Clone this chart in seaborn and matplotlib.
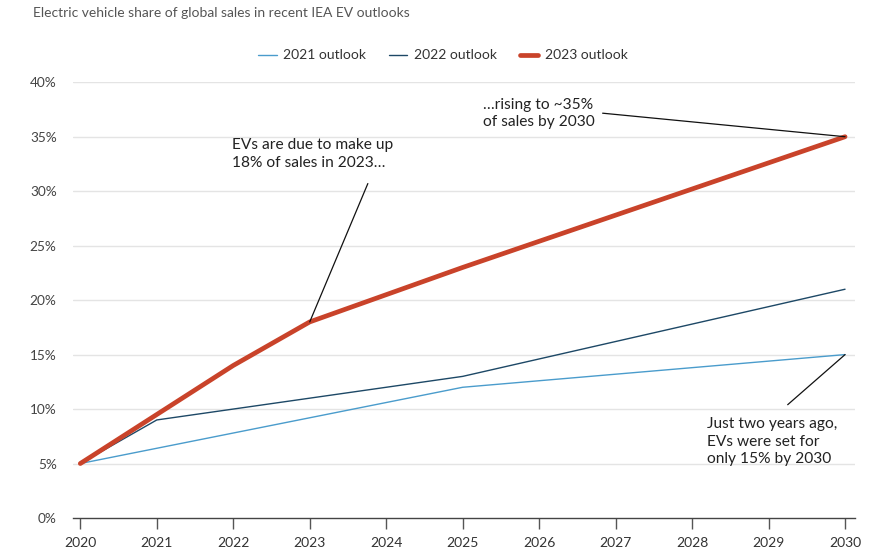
import matplotlib
matplotlib.use("Agg")
import matplotlib.pyplot as plt
import seaborn as sns
import pandas as pd

# IEA EV outlook projections: share of global car sales (%)
years_2021 = [2020, 2025, 2030]
share_2021 = [5, 12, 15]

years_2022 = [2020, 2021, 2025, 2030]
share_2022 = [5, 9, 13, 21]

years_2023 = [2020, 2022, 2023, 2025, 2030]
share_2023 = [5, 14, 18, 23, 35]

series_names = ["2021 outlook", "2022 outlook", "2023 outlook"]
series_colors = ["#4a9ccc", "#1d4866", "#c9432a"]
series_widths = [1.0, 1.0, 3.4]

x_ticks = list(range(2020, 2031))
y_ticks = [0, 5, 10, 15, 20, 25, 30, 35, 40]

frames = []
for name, yrs, vals in zip(series_names,
                           [years_2021, years_2022, years_2023],
                           [share_2021, share_2022, share_2023]):
    frames.append(pd.DataFrame({"year": yrs, "share": vals, "outlook": name}))
df = pd.concat(frames, ignore_index=True)

sns.set_theme(style="white")
plt.rcParams["font.family"] = ["Lato", "DejaVu Sans"]

fig = plt.figure(figsize=(8.86, 5.52), dpi=100)
ax = fig.add_axes([0.082, 0.0616, 0.883, 0.7894])

palette = dict(zip(series_names, series_colors))
for name, lw in zip(series_names, series_widths):
    sub = df[df["outlook"] == name]
    sns.lineplot(data=sub, x="year", y="share", color=palette[name],
                 linewidth=lw, ax=ax, label=name, zorder=3 if lw > 2 else 2,
                 solid_capstyle="round")

ax.set_xlim(2019.9, 2030.13)
ax.set_ylim(0, 40)
ax.set_xticks(x_ticks)
ax.set_yticks(y_ticks)
ax.set_yticklabels([f"{v}%" for v in y_ticks])
ax.set_xlabel("")
ax.set_ylabel("")

for y in y_ticks[1:]:
    ax.axhline(y, color="#e4e4e4", linewidth=1.0, zorder=0)

for side in ["top", "right", "left"]:
    ax.spines[side].set_visible(False)
ax.spines["bottom"].set_color("#444444")
ax.spines["bottom"].set_linewidth(1.0)

ax.tick_params(axis="x", bottom=True, length=8, width=1, color="#555555",
               labelsize=10, labelcolor="#333333", pad=6)
ax.tick_params(axis="y", left=False, length=0, labelsize=9.8,
               labelcolor="#444444", pad=11.5)

# Legend above the plot area
leg = ax.legend(loc="upper center", ncol=3, frameon=False,
                fontsize=10, handlelength=1.3, columnspacing=1.7,
                handletextpad=0.45)
leg.set_bbox_to_anchor((0.5, 0.933), transform=fig.transFigure)
for t in leg.get_texts():
    t.set_color("#333333")

fig.text(0.037, 0.977, "Electric vehicle share of global sales in recent IEA EV outlooks",
         fontsize=10, color="#555555", va="center", ha="left")

# Callouts
txt_kw = dict(fontsize=11.2, color="#222222", ha="left", va="center",
              linespacing=1.3)
line_kw = dict(arrowstyle="-", color="#111111", linewidth=0.9,
               shrinkA=0, shrinkB=0)

ax.text(2021.99, 33.4, "EVs are due to make up\n18% of sales in 2023…", **txt_kw)
ax.annotate("", xy=(2023, share_2023[2]), xytext=(2023.76, 30.7),
            arrowprops=line_kw)

ax.text(2025.26, 37.1, "…rising to ~35%\nof sales by 2030", **txt_kw)
ax.annotate("", xy=(2030, share_2023[-1]), xytext=(2026.83, 37.16),
            arrowprops=line_kw)

ax.text(2028.19, 7.0, "Just two years ago,\nEVs were set for\nonly 15% by 2030", **txt_kw)
ax.annotate("", xy=(2030, share_2021[-1]), xytext=(2029.25, 10.4),
            arrowprops=line_kw)

fig.savefig("out.png", dpi=100)
